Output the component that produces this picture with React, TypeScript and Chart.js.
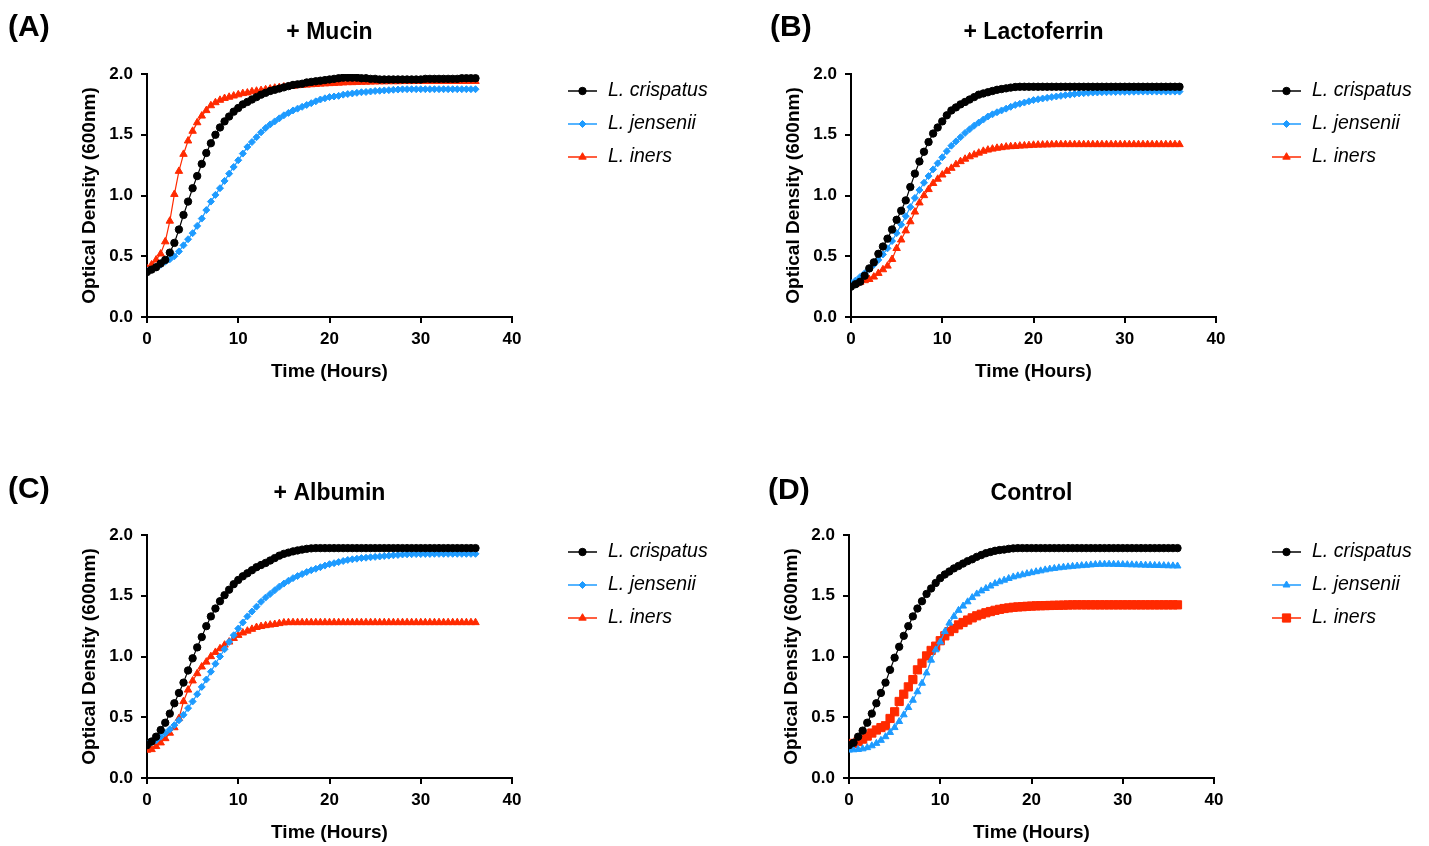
import React, { useEffect, useRef } from "react";
import { Chart, registerables } from "chart.js";

Chart.register(...registerables);

const FONT = "'Liberation Sans', Arial, Helvetica, sans-serif";

const TIME = [
  0, 0.5, 1, 1.5, 2, 2.5, 3, 3.5, 4, 4.5,
  5, 5.5, 6, 6.5, 7, 7.5, 8, 8.5, 9, 9.5,
  10, 10.5, 11, 11.5, 12, 12.5, 13, 13.5, 14, 14.5,
  15, 15.5, 16, 16.5, 17, 17.5, 18, 18.5, 19, 19.5,
  20, 20.5, 21, 21.5, 22, 22.5, 23, 23.5, 24, 24.5,
  25, 25.5, 26, 26.5, 27, 27.5, 28, 28.5, 29, 29.5,
  30, 30.5, 31, 31.5, 32, 32.5, 33, 33.5, 34, 34.5,
  35, 35.5, 36,
];

const SERIES_NAMES = ["L. crispatus", "L. jensenii", "L. iners"];
const PANEL_TITLES = ["+ Mucin", "+ Lactoferrin", "+ Albumin", "Control"];
const PANEL_LABELS = ["(A)", "(B)", "(C)", "(D)"];
const X_TITLE = "Time (Hours)";
const Y_TITLE = "Optical Density (600nm)";

// (A) + Mucin
const A_CRISPATUS = [
  0.37, 0.39, 0.41, 0.44, 0.47, 0.53, 0.61, 0.72, 0.84, 0.95,
  1.06, 1.16, 1.26, 1.35, 1.43, 1.50, 1.56, 1.61, 1.65, 1.69,
  1.72, 1.75, 1.77, 1.79, 1.81, 1.83, 1.845, 1.86, 1.87, 1.88,
  1.89, 1.90, 1.91, 1.915, 1.92, 1.93, 1.935, 1.94, 1.945, 1.95,
  1.955, 1.96, 1.965, 1.97, 1.97, 1.97, 1.97, 1.965, 1.965, 1.96,
  1.96, 1.955, 1.955, 1.955, 1.955, 1.955, 1.955, 1.955, 1.955, 1.955,
  1.955, 1.96, 1.96, 1.96, 1.96, 1.96, 1.96, 1.96, 1.96, 1.965,
  1.965, 1.965, 1.965,
];
const A_JENSENII = [
  0.38, 0.39, 0.41, 0.43, 0.455, 0.475, 0.50, 0.54, 0.59, 0.64,
  0.69, 0.75, 0.81, 0.88, 0.95, 1.005, 1.06, 1.12, 1.18, 1.235,
  1.29, 1.345, 1.40, 1.44, 1.48, 1.52, 1.555, 1.585, 1.61, 1.635,
  1.66, 1.68, 1.70, 1.715, 1.73, 1.745, 1.76, 1.775, 1.79, 1.80,
  1.81, 1.815, 1.82, 1.83, 1.835, 1.84, 1.845, 1.85, 1.852, 1.856,
  1.86, 1.862, 1.865, 1.867, 1.87, 1.872, 1.874, 1.875, 1.875, 1.875,
  1.875, 1.875, 1.875, 1.875, 1.875, 1.875, 1.875, 1.875, 1.875, 1.875,
  1.875, 1.875, 1.875,
];
const A_INERS = [
  0.40, 0.43, 0.47, 0.52, 0.62, 0.79, 1.01, 1.20, 1.34, 1.45,
  1.53, 1.60, 1.655, 1.70, 1.74, 1.765, 1.785, 1.80, 1.81, 1.82,
  1.83, 1.84, 1.845, 1.855, 1.86, 1.865, 1.872, 1.878, 1.885, 1.89,
  1.895, 1.898, 1.90, 1.905, 1.908, 1.91, 1.913, 1.915, 1.918, 1.92,
  1.922, 1.924, 1.926, 1.928, 1.93, 1.93, 1.932, 1.933, 1.934, 1.935,
  1.936, 1.937, 1.937, 1.938, 1.938, 1.938, 1.939, 1.939, 1.939, 1.94,
  1.94, 1.94, 1.94, 1.94, 1.94, 1.94, 1.94, 1.94, 1.94, 1.94,
  1.94, 1.94, 1.94,
];

// (B) + Lactoferrin
const B_CRISPATUS = [
  0.25, 0.27, 0.29, 0.34, 0.40, 0.45, 0.52, 0.58, 0.645, 0.72,
  0.80, 0.875, 0.96, 1.07, 1.18, 1.28, 1.36, 1.44, 1.51, 1.56,
  1.61, 1.66, 1.70, 1.725, 1.75, 1.77, 1.79, 1.81, 1.83, 1.84,
  1.85, 1.86, 1.87, 1.876, 1.882, 1.888, 1.893, 1.895, 1.895, 1.895,
  1.895, 1.895, 1.895, 1.895, 1.895, 1.895, 1.895, 1.895, 1.895, 1.895,
  1.895, 1.895, 1.895, 1.895, 1.895, 1.895, 1.895, 1.895, 1.895, 1.895,
  1.895, 1.895, 1.895, 1.895, 1.895, 1.895, 1.895, 1.895, 1.895, 1.895,
  1.895, 1.895, 1.895,
];
const B_JENSENII = [
  0.28, 0.30, 0.33, 0.36, 0.395, 0.43, 0.47, 0.515, 0.565, 0.625,
  0.69, 0.76, 0.83, 0.905, 0.98, 1.045, 1.105, 1.16, 1.215, 1.265,
  1.315, 1.365, 1.41, 1.445, 1.48, 1.515, 1.545, 1.575, 1.60, 1.625,
  1.65, 1.668, 1.685, 1.70, 1.715, 1.73, 1.745, 1.755, 1.765, 1.775,
  1.785, 1.792, 1.798, 1.804, 1.81, 1.815, 1.82, 1.826, 1.83, 1.835,
  1.84, 1.842, 1.845, 1.847, 1.848, 1.85, 1.85, 1.852, 1.852, 1.853,
  1.853, 1.854, 1.854, 1.855, 1.855, 1.855, 1.855, 1.855, 1.855, 1.855,
  1.855, 1.855, 1.855,
];
const B_INERS = [
  0.26, 0.27, 0.285, 0.30, 0.31, 0.33, 0.36, 0.39, 0.42, 0.475,
  0.565, 0.635, 0.71, 0.785, 0.865, 0.94, 1.00, 1.05, 1.10, 1.135,
  1.17, 1.20, 1.225, 1.255, 1.28, 1.30, 1.32, 1.335, 1.35, 1.365,
  1.375, 1.383, 1.39, 1.395, 1.40, 1.403, 1.405, 1.408, 1.41, 1.412,
  1.415, 1.416, 1.417, 1.418, 1.419, 1.42, 1.42, 1.42, 1.42, 1.42,
  1.42, 1.42, 1.42, 1.42, 1.42, 1.42, 1.42, 1.42, 1.42, 1.42,
  1.42, 1.42, 1.42, 1.42, 1.42, 1.42, 1.42, 1.42, 1.42, 1.42,
  1.42, 1.42, 1.42,
];

// (C) + Albumin
const C_CRISPATUS = [
  0.27, 0.30, 0.34, 0.395, 0.455, 0.53, 0.615, 0.70, 0.785, 0.885,
  0.985, 1.075, 1.16, 1.25, 1.33, 1.395, 1.455, 1.505, 1.55, 1.595,
  1.63, 1.66, 1.685, 1.71, 1.735, 1.753, 1.77, 1.79, 1.81, 1.83,
  1.845, 1.855, 1.865, 1.873, 1.88, 1.886, 1.89, 1.892, 1.892, 1.892,
  1.892, 1.892, 1.892, 1.892, 1.892, 1.892, 1.892, 1.892, 1.892, 1.892,
  1.892, 1.892, 1.892, 1.892, 1.892, 1.892, 1.892, 1.892, 1.892, 1.892,
  1.892, 1.892, 1.892, 1.892, 1.892, 1.892, 1.892, 1.892, 1.892, 1.892,
  1.892, 1.892, 1.892,
];
const C_JENSENII = [
  0.28, 0.295, 0.31, 0.34, 0.37, 0.40, 0.435, 0.475, 0.52, 0.575,
  0.63, 0.69, 0.75, 0.81, 0.875, 0.94, 1.00, 1.06, 1.12, 1.175,
  1.23, 1.28, 1.33, 1.37, 1.41, 1.45, 1.485, 1.515, 1.545, 1.575,
  1.60, 1.623, 1.645, 1.662, 1.678, 1.695, 1.71, 1.722, 1.735, 1.748,
  1.76, 1.768, 1.777, 1.786, 1.795, 1.80, 1.805, 1.81, 1.813, 1.817,
  1.82, 1.823, 1.827, 1.83, 1.833, 1.836, 1.84, 1.841, 1.842, 1.843,
  1.843, 1.844, 1.844, 1.845, 1.845, 1.845, 1.845, 1.845, 1.845, 1.845,
  1.845, 1.845, 1.845,
];
const C_INERS = [
  0.23, 0.235, 0.26, 0.29, 0.325, 0.37, 0.415, 0.49, 0.63, 0.725,
  0.80, 0.86, 0.915, 0.955, 1.00, 1.035, 1.065, 1.095, 1.12, 1.15,
  1.175, 1.195, 1.21, 1.225, 1.24, 1.248, 1.255, 1.26, 1.265, 1.272,
  1.278, 1.28, 1.28, 1.28, 1.28, 1.28, 1.28, 1.28, 1.28, 1.28,
  1.28, 1.28, 1.28, 1.28, 1.28, 1.28, 1.28, 1.28, 1.28, 1.28,
  1.28, 1.28, 1.28, 1.28, 1.28, 1.28, 1.28, 1.28, 1.28, 1.28,
  1.28, 1.28, 1.28, 1.28, 1.28, 1.28, 1.28, 1.28, 1.28, 1.28,
  1.28, 1.28, 1.28,
];

// (D) Control
const D_CRISPATUS = [
  0.27, 0.29, 0.34, 0.39, 0.455, 0.53, 0.615, 0.70, 0.785, 0.89,
  0.99, 1.08, 1.17, 1.25, 1.33, 1.395, 1.455, 1.515, 1.56, 1.605,
  1.645, 1.675, 1.70, 1.725, 1.745, 1.765, 1.785, 1.80, 1.82, 1.835,
  1.85, 1.86, 1.87, 1.876, 1.88, 1.886, 1.89, 1.892, 1.892, 1.892,
  1.892, 1.892, 1.892, 1.892, 1.892, 1.892, 1.892, 1.892, 1.892, 1.892,
  1.892, 1.892, 1.892, 1.892, 1.892, 1.892, 1.892, 1.892, 1.892, 1.892,
  1.892, 1.892, 1.892, 1.892, 1.892, 1.892, 1.892, 1.892, 1.892, 1.892,
  1.892, 1.892, 1.892,
];
const D_JENSENII = [
  0.23, 0.232, 0.235, 0.24, 0.25, 0.265, 0.285, 0.31, 0.34, 0.375,
  0.415, 0.465, 0.52, 0.58, 0.64, 0.71, 0.78, 0.865, 0.97, 1.055,
  1.12, 1.205, 1.275, 1.33, 1.38, 1.415, 1.45, 1.485, 1.515, 1.54,
  1.56, 1.58, 1.60, 1.615, 1.628, 1.642, 1.655, 1.664, 1.673, 1.682,
  1.69, 1.698, 1.705, 1.713, 1.72, 1.725, 1.73, 1.735, 1.738, 1.742,
  1.745, 1.748, 1.751, 1.754, 1.757, 1.759, 1.76, 1.76, 1.759, 1.758,
  1.757, 1.756, 1.755, 1.754, 1.753, 1.752, 1.751, 1.75, 1.749, 1.748,
  1.747, 1.746, 1.745,
];
const D_INERS = [
  0.27, 0.285, 0.30, 0.32, 0.345, 0.37, 0.395, 0.415, 0.43, 0.49,
  0.545, 0.63, 0.69, 0.75, 0.81, 0.89, 0.945, 1.005, 1.05, 1.085,
  1.13, 1.17, 1.205, 1.23, 1.26, 1.28, 1.30, 1.318, 1.335, 1.348,
  1.36, 1.37, 1.38, 1.388, 1.395, 1.40, 1.405, 1.408, 1.41, 1.413,
  1.415, 1.417, 1.418, 1.419, 1.42, 1.421, 1.422, 1.423, 1.424, 1.425,
  1.425, 1.425, 1.425, 1.425, 1.425, 1.425, 1.425, 1.425, 1.425, 1.425,
  1.425, 1.425, 1.425, 1.425, 1.425, 1.425, 1.425, 1.425, 1.425, 1.425,
  1.425, 1.425, 1.425,
];

const BLACK = "#000000";
const BLUE = "#1e9bff";
const RED = "#ff2a00";

type SeriesStyle = { color: string; marker: string; radius: number };

const STYLE_ABC: SeriesStyle[] = [
  { color: BLACK, marker: "circle", radius: 3.7 },
  { color: BLUE, marker: "rectRot", radius: 3.5 },
  { color: RED, marker: "triangle", radius: 4.3 },
];
const STYLE_D: SeriesStyle[] = [
  { color: BLACK, marker: "circle", radius: 3.7 },
  { color: BLUE, marker: "triangle", radius: 4.0 },
  { color: RED, marker: "rect", radius: 5.8 },
];

const CANVAS_W = 714;
const CANVAS_H = 385;
const Y_SCALE_W = 69;
const X_SCALE_H = 66;

const PANELS = [
  { left: 0, top: 0, labelX: 8, labelY: 36, legendX: 568, title: PANEL_TITLES[0], label: PANEL_LABELS[0], series: [A_CRISPATUS, A_JENSENII, A_INERS], styles: STYLE_ABC },
  { left: 704, top: 0, labelX: 66, labelY: 36, legendX: 568, title: PANEL_TITLES[1], label: PANEL_LABELS[1], series: [B_CRISPATUS, B_JENSENII, B_INERS], styles: STYLE_ABC },
  { left: 0, top: 461, labelX: 8, labelY: 37, legendX: 568, title: PANEL_TITLES[2], label: PANEL_LABELS[2], series: [C_CRISPATUS, C_JENSENII, C_INERS], styles: STYLE_ABC },
  { left: 702, top: 461, labelX: 66, labelY: 38, legendX: 570, title: PANEL_TITLES[3], label: PANEL_LABELS[3], series: [D_CRISPATUS, D_JENSENII, D_INERS], styles: STYLE_D },
];

function drawMarker(ctx: CanvasRenderingContext2D, style: string, x: number, y: number, r: number, color: string) {
  ctx.save();
  ctx.fillStyle = color;
  ctx.strokeStyle = color;
  ctx.lineWidth = 1;
  ctx.beginPath();
  if (style === "circle") {
    ctx.arc(x, y, r, 0, Math.PI * 2);
  } else if (style === "rectRot") {
    ctx.moveTo(x, y - r);
    ctx.lineTo(x + r, y);
    ctx.lineTo(x, y + r);
    ctx.lineTo(x - r, y);
    ctx.closePath();
  } else if (style === "triangle") {
    let a = 0;
    ctx.moveTo(x + Math.sin(a) * r, y - Math.cos(a) * r);
    a += (2 * Math.PI) / 3;
    ctx.lineTo(x + Math.sin(a) * r, y - Math.cos(a) * r);
    a += (2 * Math.PI) / 3;
    ctx.lineTo(x + Math.sin(a) * r, y - Math.cos(a) * r);
    ctx.closePath();
  } else {
    const s = r * Math.SQRT1_2;
    ctx.rect(x - s, y - s, 2 * s, 2 * s);
  }
  ctx.fill();
  ctx.stroke();
  ctx.restore();
}

function decorPlugin(panel: any) {
  return {
    id: "decor",
    afterDraw(chart: any) {
      const ctx: CanvasRenderingContext2D = chart.ctx;
      const ca = chart.chartArea;
      ctx.save();
      ctx.fillStyle = "#000";
      ctx.font = `bold 30px ${FONT}`;
      ctx.textAlign = "left";
      ctx.textBaseline = "alphabetic";
      ctx.fillText(panel.label, panel.labelX, panel.labelY);

      ctx.font = `bold 23px ${FONT}`;
      ctx.textAlign = "center";
      ctx.textBaseline = "middle";
      ctx.fillText(panel.title, (ca.left + ca.right) / 2, 33);

      chart.data.datasets.forEach((ds: any, i: number) => {
        const y = 91 + i * 33;
        const lx = panel.legendX;
        ctx.strokeStyle = ds.borderColor;
        ctx.lineWidth = 1.5;
        ctx.beginPath();
        ctx.moveTo(lx, y);
        ctx.lineTo(lx + 29, y);
        ctx.stroke();
        drawMarker(ctx, ds.pointStyle, lx + 14.5, y, ds.pointRadius, ds.pointBackgroundColor);
        ctx.fillStyle = "#000";
        ctx.font = `italic 19.5px ${FONT}`;
        ctx.textAlign = "left";
        ctx.textBaseline = "middle";
        ctx.fillText(ds.label, lx + 40, y);
      });
      ctx.restore();
    },
  };
}

function Panel({ panel }: { panel: any }) {
  const ref = useRef<HTMLCanvasElement | null>(null);
  useEffect(() => {
    if (!ref.current) return;
    const datasets = panel.series.map((vals: number[], i: number) => {
      const st = panel.styles[i];
      return {
        label: SERIES_NAMES[i],
        data: TIME.map((t, k) => ({ x: t, y: vals[k] })),
        borderColor: st.color,
        backgroundColor: st.color,
        pointBackgroundColor: st.color,
        pointBorderColor: st.color,
        pointStyle: st.marker,
        pointRadius: st.radius,
        pointBorderWidth: 1,
        borderWidth: 1.2,
        tension: 0,
        fill: false,
      };
    });
    const chart = new Chart(ref.current, {
      type: "line",
      data: { datasets },
      options: {
        animation: false,
        responsive: false,
        devicePixelRatio: 1,
        layout: { padding: { left: 147 - Y_SCALE_W, top: 74, right: CANVAS_W - 512, bottom: CANVAS_H - 317 - X_SCALE_H } },
        plugins: { legend: { display: false }, title: { display: false }, tooltip: { enabled: false } },
        scales: {
          x: {
            type: "linear",
            min: 0,
            max: 40,
            afterFit: (s: any) => { s.height = X_SCALE_H; },
            ticks: { stepSize: 10, padding: 6, color: "#000", font: { family: FONT, size: 17, weight: "bold" }, maxRotation: 0 },
            grid: { drawOnChartArea: false, drawTicks: true, tickLength: 6, color: "#000", lineWidth: 2 },
            border: { display: true, color: "#000", width: 2 },
            title: { display: true, text: X_TITLE, color: "#000", font: { family: FONT, size: 19, weight: "bold" }, padding: { top: 0, bottom: 0 } },
          },
          y: {
            type: "linear",
            min: 0,
            max: 2,
            afterFit: (s: any) => { s.width = Y_SCALE_W; },
            ticks: { stepSize: 0.5, padding: 8, color: "#000", font: { family: FONT, size: 17, weight: "bold" }, callback: (v: any) => Number(v).toFixed(1) },
            grid: { drawOnChartArea: false, drawTicks: true, tickLength: 6, color: "#000", lineWidth: 2 },
            border: { display: true, color: "#000", width: 2 },
            title: { display: true, text: Y_TITLE, color: "#000", font: { family: FONT, size: 19, weight: "bold" }, padding: { top: 0, bottom: 0 } },
          },
        },
      } as any,
      plugins: [decorPlugin(panel)],
    });
    return () => chart.destroy();
  }, [panel]);
  return (
    <canvas
      ref={ref}
      width={CANVAS_W}
      height={CANVAS_H}
      style={{ position: "absolute", left: panel.left, top: panel.top, width: CANVAS_W, height: CANVAS_H }}
    />
  );
}

export default function App() {
  return (
    <div style={{ position: "absolute", left: 0, top: 0, width: 1429, height: 846, background: "#fff", overflow: "hidden" }}>
      {PANELS.map((p, i) => (
        <Panel key={i} panel={p} />
      ))}
    </div>
  );
}
